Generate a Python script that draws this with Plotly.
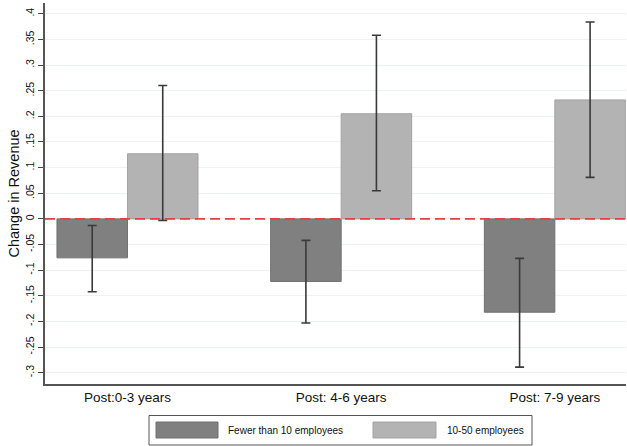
import plotly.graph_objects as go

categories = ["Post:0-3 years", "Post: 4-6 years", "Post: 7-9 years"]
series_names = ["Fewer than 10 employees", "10-50 employees"]

small_vals = [-0.076, -0.122, -0.182]
small_lo = [-0.142, -0.203, -0.289]
small_hi = [-0.013, -0.042, -0.077]

large_vals = [0.127, 0.205, 0.232]
large_lo = [-0.003, 0.055, 0.081]
large_hi = [0.260, 0.358, 0.384]

y_ticks = [-0.3, -0.25, -0.2, -0.15, -0.1, -0.05, 0, 0.05, 0.1, 0.15, 0.2, 0.25, 0.3, 0.35, 0.4]


def stata_label(v):
    if abs(v) < 1e-9:
        return "0"
    s = f"{v:.2f}".rstrip("0")
    return s.replace("0.", ".")


W, H = 627, 446
L, R, T, B = 45, 626, 3, 384
FONT = "Liberation Sans, Arial, Helvetica, sans-serif"

colors = ["#808080", "#b3b3b3"]
line_colors = ["#707070", "#a3a3a3"]

fig = go.Figure()
for name, vals, lo, hi, c, lc in [
    (series_names[0], small_vals, small_lo, small_hi, colors[0], line_colors[0]),
    (series_names[1], large_vals, large_lo, large_hi, colors[1], line_colors[1]),
]:
    fig.add_trace(go.Bar(
        x=categories, y=vals, name=name,
        marker=dict(color=c, line=dict(color=lc, width=1)),
        error_y=dict(type="data", symmetric=False,
                     array=[h - v for h, v in zip(hi, vals)],
                     arrayminus=[v - l for v, l in zip(vals, lo)],
                     color="#3a3a3a", thickness=1.6, width=4.5),
        showlegend=False,
    ))


def px_x(p):
    return (p - L) / (R - L)


def px_y(p):
    return (B - p) / (B - T)


shapes = [
    dict(type="line", xref="paper", yref="y", x0=0, x1=1, y0=0, y1=0,
         line=dict(color="#e8403a", width=1.8, dash="10px,5px"), layer="above"),
    # legend box
    dict(type="rect", xref="paper", yref="paper",
         x0=px_x(149), x1=px_x(532), y0=px_y(445), y1=px_y(415.5),
         line=dict(color="#555555", width=1), fillcolor="white"),
    dict(type="rect", xref="paper", yref="paper",
         x0=px_x(156), x1=px_x(218), y0=px_y(438), y1=px_y(422),
         line=dict(color=line_colors[0], width=1), fillcolor=colors[0]),
    dict(type="rect", xref="paper", yref="paper",
         x0=px_x(373), x1=px_x(436), y0=px_y(438), y1=px_y(422),
         line=dict(color=line_colors[1], width=1), fillcolor=colors[1]),
]

annotations = [
    dict(xref="paper", yref="paper", x=px_x(226), y=px_y(430), text=series_names[0],
         showarrow=False, xanchor="left", yanchor="middle",
         font=dict(family=FONT, size=10, color="#111111")),
    dict(xref="paper", yref="paper", x=px_x(445), y=px_y(430), text=series_names[1],
         showarrow=False, xanchor="left", yanchor="middle",
         font=dict(family=FONT, size=10, color="#111111")),
]

fig.update_layout(
    width=W, height=H,
    margin=dict(l=L, r=W - R, t=T, b=H - B, pad=0),
    paper_bgcolor="white", plot_bgcolor="white",
    barmode="group", bargap=0.34, bargroupgap=0,
    font=dict(family=FONT, color="#111111"),
    shapes=shapes, annotations=annotations,
    xaxis=dict(
        type="category", range=[-0.386, 2.333],
        showline=True, linecolor="#555555", linewidth=1.5,
        ticks="", showgrid=False, zeroline=False,
        tickfont=dict(family=FONT, size=13.5, color="#111111"),
    ),
    yaxis=dict(
        range=[-0.322, 0.421],
        tickvals=y_ticks, ticktext=[stata_label(v) for v in y_ticks],
        tickangle=-90,
        ticks="outside", ticklen=5, tickcolor="#444444", tickwidth=1,
        showline=True, linecolor="#555555", linewidth=1.5,
        showgrid=True, gridcolor="#eaf2f3", gridwidth=1,
        zeroline=False,
        tickfont=dict(family=FONT, size=10.5, color="#111111"),
        title=dict(text="Change in Revenue", font=dict(family=FONT, size=14.5, color="#111111"),
                   standoff=1),
    ),
)

fig.write_html("out.html")
